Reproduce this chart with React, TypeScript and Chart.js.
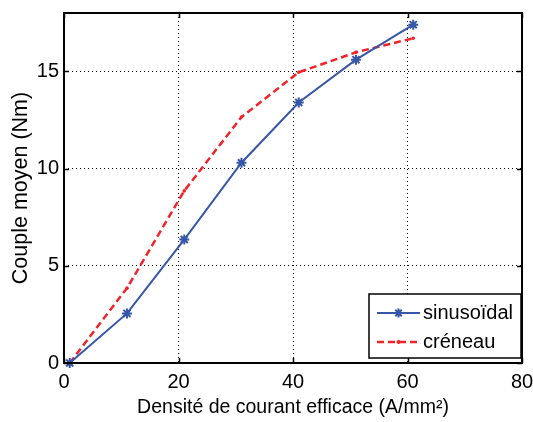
import React, { useEffect, useRef } from "react";
import { Chart, registerables } from "chart.js";

Chart.register(...registerables);

// ---- data ----
const densite = [1, 11, 21, 31, 41, 51, 61];
const sinusoidal = [0, 2.55, 6.35, 10.3, 13.4, 15.6, 17.4];
const creneau = [0, 3.85, 8.85, 12.65, 14.95, 15.98, 16.7];
const seriesLabels = ["sinusoïdal", "créneau"];
const xTicks = [0, 20, 40, 60, 80];
const yTicks = [0, 5, 10, 15];
const xTitle = "Densité de courant efficace (A/mm²)";
const yTitle = "Couple moyen (Nm)";

const BLUE = "#3656a8";
const RED = "#f0222a";
const FONT = "'Liberation Sans', Arial, Helvetica, sans-serif";

function drawStar(ctx: CanvasRenderingContext2D, x: number, y: number, r: number) {
  ctx.beginPath();
  ctx.moveTo(x - r, y);
  ctx.lineTo(x + r, y);
  ctx.moveTo(x, y - r);
  ctx.lineTo(x, y + r);
  const d = r * Math.SQRT1_2;
  ctx.moveTo(x - d, y - d);
  ctx.lineTo(x + d, y + d);
  ctx.moveTo(x - d, y + d);
  ctx.lineTo(x + d, y - d);
  ctx.stroke();
}

const framePlugin = {
  id: "matlabFrame",
  afterDraw(chart: any) {
    const { ctx, chartArea } = chart;
    const xs = chart.scales.x;
    const ys = chart.scales.y;
    const { left, right, top, bottom } = chartArea;
    ctx.save();
    ctx.strokeStyle = "#000";
    ctx.lineWidth = 1.5;
    ctx.setLineDash([]);
    const tl = 5;
    ctx.beginPath();
    xTicks.forEach((v) => {
      const px = Math.round(xs.getPixelForValue(v)) + 0.5;
      ctx.moveTo(px, bottom);
      ctx.lineTo(px, bottom - tl);
      ctx.moveTo(px, top);
      ctx.lineTo(px, top + tl);
    });
    yTicks.forEach((v) => {
      const py = Math.round(ys.getPixelForValue(v)) + 0.5;
      ctx.moveTo(left, py);
      ctx.lineTo(left + tl, py);
      ctx.moveTo(right, py);
      ctx.lineTo(right - tl, py);
    });
    ctx.stroke();
    ctx.lineWidth = 2;
    ctx.strokeRect(left, top, right - left, bottom - top);

    // legend
    const bx = 369, by = 294, bw = 152, bh = 64;
    ctx.fillStyle = "#fff";
    ctx.fillRect(bx, by, bw, bh);
    ctx.lineWidth = 1.5;
    ctx.strokeStyle = "#000";
    ctx.strokeRect(bx, by, bw, bh);
    const rows = [313, 342];
    const x0 = 377, x1 = 420, xm = 398.5;
    ctx.strokeStyle = BLUE;
    ctx.lineWidth = 2;
    ctx.beginPath();
    ctx.moveTo(x0, rows[0]);
    ctx.lineTo(x1, rows[0]);
    ctx.stroke();
    drawStar(ctx, xm, rows[0], 4.5);
    ctx.strokeStyle = RED;
    ctx.lineWidth = 2.5;
    ctx.setLineDash([7, 4]);
    ctx.beginPath();
    ctx.moveTo(x0, rows[1]);
    ctx.lineTo(x1, rows[1]);
    ctx.stroke();
    ctx.setLineDash([]);
    ctx.fillStyle = RED;
    ctx.beginPath();
    ctx.arc(xm, rows[1], 2, 0, Math.PI * 2);
    ctx.fill();
    ctx.fillStyle = "#000";
    ctx.font = `20px ${FONT}`;
    ctx.textAlign = "left";
    ctx.textBaseline = "middle";
    ctx.fillText(seriesLabels[0], 423, rows[0]);
    ctx.fillText(seriesLabels[1], 423, rows[1]);
    ctx.restore();
  },
};

export default function App() {
  const ref = useRef<HTMLCanvasElement | null>(null);
  useEffect(() => {
    document.body.style.margin = "0";
    const canvas = ref.current!;
    const chart = new Chart(canvas, {
      type: "line",
      data: {
        datasets: [
          {
            label: seriesLabels[0],
            data: densite.map((x, i) => ({ x, y: sinusoidal[i] })),
            borderColor: BLUE,
            backgroundColor: BLUE,
            borderWidth: 2,
            pointStyle: "star",
            pointRadius: 5,
            pointBorderWidth: 2,
            pointBorderColor: BLUE,
            tension: 0,
            clip: 8,
          },
          {
            label: seriesLabels[1],
            data: densite.map((x, i) => ({ x, y: creneau[i] })),
            borderColor: RED,
            backgroundColor: RED,
            borderWidth: 2.5,
            borderDash: [7, 4],
            pointStyle: "circle",
            pointRadius: 1.8,
            pointBorderWidth: 0,
            pointBackgroundColor: RED,
            tension: 0,
            clip: 8,
          },
        ],
      },
      options: {
        animation: false,
        responsive: false,
        events: [],
        layout: { padding: { left: 0, right: 11, top: 13, bottom: 0 } },
        plugins: { legend: { display: false }, tooltip: { enabled: false } },
        scales: {
          x: {
            type: "linear",
            min: 0,
            max: 80,
            afterBuildTicks: (s: any) => {
              s.ticks = xTicks.map((v) => ({ value: v }));
            },
            afterFit: (s: any) => {
              s.height = 59;
              s.paddingLeft = 0;
              s.paddingRight = 0;
            },
            ticks: {
              padding: 7,
              maxRotation: 0,
              color: "#000",
              font: { family: FONT, size: 20 },
            },
            grid: { color: "#000", lineWidth: 1, drawTicks: false },
            border: { display: false, dash: [1, 3] },
            title: {
              display: true,
              text: xTitle,
              color: "#000",
              font: { family: FONT, size: 19.5 },
              padding: { top: 0, bottom: 3 },
            },
          },
          y: {
            type: "linear",
            min: 0,
            max: 18,
            afterBuildTicks: (s: any) => {
              s.ticks = yTicks.map((v) => ({ value: v }));
            },
            afterFit: (s: any) => {
              s.width = 64;
              s.paddingTop = 0;
              s.paddingBottom = 0;
            },
            ticks: {
              padding: 5,
              color: "#000",
              font: { family: FONT, size: 20 },
            },
            grid: { color: "#000", lineWidth: 1, drawTicks: false },
            border: { display: false, dash: [1, 3] },
            title: {
              display: true,
              text: yTitle,
              color: "#000",
              font: { family: FONT, size: 21.5 },
              padding: { top: 8, bottom: 0 },
            },
          },
        },
      },
      plugins: [framePlugin],
    });
    return () => chart.destroy();
  }, []);
  return <canvas ref={ref} width={533} height={422} style={{ display: "block" }} />;
}
